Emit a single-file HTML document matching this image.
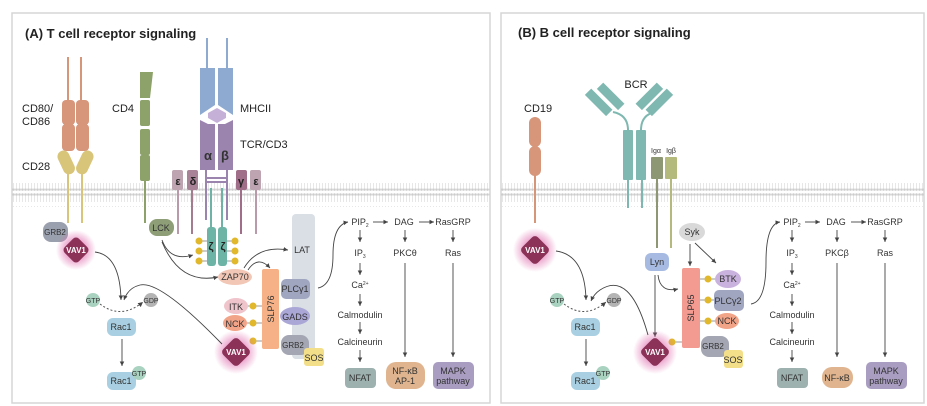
<!DOCTYPE html>
<html><head><meta charset="utf-8"><style>
html,body{margin:0;padding:0;background:#fff;}
svg{display:block;font-family:"Liberation Sans",sans-serif;}
.t{font-size:9px;fill:#333;text-anchor:middle;}
.s{font-size:7px;fill:#333;text-anchor:middle;}
.w{font-size:9px;fill:#fff;text-anchor:middle;font-weight:bold;}
.h{font-size:13px;font-weight:bold;fill:#222;}
.l{font-size:11px;fill:#222;}
.a{stroke:#444;stroke-width:0.9;fill:none;marker-end:url(#ar);}
.p{font-size:5px;fill:#333;text-anchor:middle;font-weight:bold;}
</style></head><body>
<svg width="927" height="406" viewBox="0 0 927 406" xmlns="http://www.w3.org/2000/svg">
<defs>
<marker id="ar" markerWidth="6" markerHeight="6" refX="5" refY="3" orient="auto"><path d="M0,0.5 L5,3 L0,5.5z" fill="#444"/></marker>
<radialGradient id="glow"><stop offset="0.5" stop-color="#e070b0" stop-opacity="0.6"/><stop offset="1" stop-color="#e070b0" stop-opacity="0"/></radialGradient>
<pattern id="mem" width="3" height="24" patternUnits="userSpaceOnUse"><circle cx="1.5" cy="2.5" r="1.3" fill="#ccc"/><line x1="1.5" y1="4" x2="1.5" y2="10" stroke="#ddd" stroke-width="0.7"/><line x1="1.5" y1="14" x2="1.5" y2="20" stroke="#ddd" stroke-width="0.7"/><circle cx="1.5" cy="21.5" r="1.3" fill="#ccc"/></pattern>
</defs>
<rect x="12" y="13" width="478" height="390" fill="#fff" stroke="#d5d5d5" stroke-width="1.5"/>
<rect x="501" y="13" width="423" height="390" fill="#fff" stroke="#d5d5d5" stroke-width="1.5"/>
<rect x="12" y="183" width="478" height="24" fill="url(#mem)"/>
<rect x="501" y="183" width="423" height="24" fill="url(#mem)"/>
<text x="25" y="38" class="h">(A) T cell receptor signaling</text>
<text x="518" y="37" class="h">(B) B cell receptor signaling</text>

<text x="22" y="112" class="l">CD80/</text><text x="22" y="125" class="l">CD86</text><text x="22" y="170" class="l">CD28</text>
<text x="112" y="112" class="l">CD4</text><text x="240" y="112" class="l">MHCII</text><text x="240" y="148" class="l">TCR/CD3</text>
<g fill="#d7957a">
<rect x="67" y="57" width="2" height="45"/><rect x="80" y="57" width="2" height="45"/>
<rect x="62" y="100" width="13" height="25" rx="4"/><rect x="62" y="124" width="13" height="27" rx="4"/>
<rect x="76" y="100" width="13" height="25" rx="4"/><rect x="76" y="124" width="13" height="27" rx="4"/>
</g>
<g fill="#d9c57a">
<rect x="67" y="170" width="2" height="53"/><rect x="81" y="170" width="2" height="53"/>
<rect x="60" y="150" width="12" height="25" rx="6" transform="rotate(-25 66 162)"/>
<rect x="79" y="150" width="12" height="25" rx="6" transform="rotate(25 85 162)"/>
</g>
<g fill="#8da26a">
<path d="M140,72 L153,72 L150,98 L140,98z"/><rect x="140" y="100" width="10" height="26" rx="2"/><rect x="140" y="129" width="10" height="26" rx="2"/><rect x="140" y="155" width="10" height="26" rx="2"/>
<rect x="144" y="180" width="2" height="43"/>
</g>
<g fill="#8eaad0">
<rect x="206" y="38" width="2" height="32"/><rect x="226" y="38" width="2" height="32"/>
<path d="M200,68 h15 v37 l-15,10z"/><path d="M218,68 h15 v47 l-15,-10z"/>
<rect x="200" y="68" width="15" height="18" rx="2"/><rect x="218" y="68" width="15" height="18" rx="2"/>
</g>
<path d="M217,108 l9,5 v5 l-9,5 l-9,-5 v-5z" fill="#c5b1d8"/>
<g fill="#9b84ae">
<path d="M200,120 l8,4 h7 v46 h-15z"/><path d="M233,120 l-8,4 h-7 v46 h15z"/>
</g>
<text x="208" y="160" style="font-size:13px;font-weight:bold;fill:#333" text-anchor="middle">α</text>
<text x="225" y="160" style="font-size:13px;font-weight:bold;fill:#333" text-anchor="middle">β</text>
<g stroke="#9b84ae" stroke-width="2"><line x1="206" y1="170" x2="206" y2="220"/><line x1="227" y1="170" x2="227" y2="220"/><line x1="206" y1="178" x2="227" y2="178"/><line x1="206" y1="182" x2="227" y2="182"/></g>
<g stroke-width="2"><line x1="178" y1="188" x2="178" y2="234" stroke="#b89aa8"/><line x1="192" y1="188" x2="192" y2="234" stroke="#a47c90"/><line x1="241" y1="188" x2="241" y2="234" stroke="#a06e88"/><line x1="256" y1="188" x2="256" y2="234" stroke="#b89aa8"/></g>
<rect x="172" y="170" width="11" height="20" rx="2" fill="#bea3b0"/><rect x="187" y="170" width="11" height="20" rx="2" fill="#a88296"/>
<rect x="236" y="170" width="11" height="20" rx="2" fill="#a06e88"/><rect x="250" y="170" width="11" height="20" rx="2" fill="#bea3b0"/>
<text x="178" y="185" class="l" text-anchor="middle" font-weight="bold">ε</text><text x="193" y="185" class="l" text-anchor="middle" font-weight="bold">δ</text>
<text x="241" y="185" class="l" text-anchor="middle" font-weight="bold">γ</text><text x="256" y="185" class="l" text-anchor="middle" font-weight="bold">ε</text>
<g fill="#6db4a6"><rect x="210" y="188" width="2" height="42"/><rect x="221" y="188" width="2" height="42"/>
<rect x="207" y="227" width="9" height="39" rx="3"/><rect x="218" y="227" width="9" height="39" rx="3"/></g>
<text x="211" y="250" style="font-size:11px;font-weight:bold;fill:#222" text-anchor="middle">ζ</text><text x="223" y="250" style="font-size:11px;font-weight:bold;fill:#222" text-anchor="middle">ζ</text>
<g stroke="#999"><line x1="202" y1="241" x2="207" y2="241"/><line x1="202" y1="251" x2="207" y2="251"/><line x1="202" y1="261" x2="207" y2="261"/><line x1="227" y1="241" x2="232" y2="241"/><line x1="227" y1="251" x2="232" y2="251"/><line x1="227" y1="261" x2="232" y2="261"/></g>
<g fill="#e1b82c"><circle cx="199" cy="241" r="3.5"/><circle cx="199" cy="251" r="3.5"/><circle cx="199" cy="261" r="3.5"/><circle cx="235" cy="241" r="3.5"/><circle cx="235" cy="251" r="3.5"/><circle cx="235" cy="261" r="3.5"/></g>
<rect x="149" y="219" width="25" height="17" rx="8" fill="#8e9e77"/><text x="161" y="231" class="t">LCK</text>
<path class="a" d="M162,240 Q170,262 193,255"/><path class="a" d="M162,242 Q180,285 218,277"/>
<path class="a" d="M244,268 Q258,245 288,250"/><path class="a" d="M248,270 Q258,255 270,268"/>
<ellipse cx="235" cy="277" rx="17" ry="8" fill="#f3c7b6"/><text x="235" y="280" class="t">ZAP70</text>
<rect x="292" y="214" width="23" height="145" rx="4" fill="#d9dfe5"/><text x="302" y="253" class="t">LAT</text>
<rect x="262" y="269" width="17" height="80" rx="2" fill="#f6b286"/>
<text transform="translate(274 309) rotate(-90)" class="t">SLP76</text>
<rect x="281" y="279" width="29" height="20" rx="5" fill="#a0a6c0"/><text x="295" y="292" class="t">PLCγ1</text>
<ellipse cx="295" cy="316" rx="15" ry="9" fill="#aaa6d6"/><text x="295" y="320" class="t">GADS</text>
<rect x="281" y="335" width="28" height="20" rx="8" fill="#a4a7b3"/><text x="293" y="348" class="s" style="font-size:8px">GRB2</text>
<rect x="304" y="348" width="20" height="18" rx="3" fill="#f3de8a"/><text x="314" y="361" class="t">SOS</text>
<ellipse cx="236" cy="306" rx="12" ry="8" fill="#f0c4cb"/><text x="236" y="310" class="t">ITK</text>
<ellipse cx="235" cy="323" rx="12" ry="8" fill="#f2a488"/><text x="235" y="327" class="t">NCK</text>
<g stroke="#999"><line x1="248" y1="306" x2="262" y2="306"/><line x1="247" y1="323" x2="262" y2="323"/><line x1="250" y1="341" x2="262" y2="341"/></g>
<g fill="#e1b82c"><circle cx="253" cy="306" r="3.5"/><circle cx="253" cy="323" r="3.5"/><circle cx="253" cy="341" r="3.5"/></g>
<circle cx="236" cy="352" r="22" fill="url(#glow)"/><rect x="225" y="341" width="22" height="22" rx="4" fill="#8c3157" transform="rotate(45 236 352)"/><text x="236" y="355" class="w" style="font-size:8px">VAV1</text>
<rect x="43" y="222" width="25" height="20" rx="8" fill="#9aa0ad"/><text x="55" y="235" class="s" style="font-size:8px">GRB2</text>
<circle cx="76" cy="250" r="20" fill="url(#glow)"/><rect x="66" y="240" width="20" height="20" rx="4" fill="#8c3157" transform="rotate(45 76 250)"/><text x="76" y="253" class="w" style="font-size:8px">VAV1</text>
<path class="a" d="M95,252 Q120,255 121,300"/><path class="a" d="M222,344 Q160,280 140,285 Q128,288 124,300"/>
<path d="M100,304 Q121,320 143,302" stroke="#555" stroke-dasharray="2,2" fill="none" marker-end="url(#ar)"/>
<circle cx="93" cy="300" r="7" fill="#a9d3c0"/><text x="93" y="303" class="s">GTP</text>
<circle cx="151" cy="300" r="7" fill="#b4b4b4"/><text x="151" y="303" class="s">GDP</text>
<rect x="107" y="318" width="29" height="18" rx="6" fill="#a8d0e2"/><text x="121" y="330" class="t">Rac1</text>
<line class="a" x1="122" y1="339" x2="122" y2="366"/>
<rect x="107" y="372" width="29" height="18" rx="6" fill="#a8d0e2"/><text x="121" y="384" class="t">Rac1</text>
<circle cx="139" cy="373" r="7" fill="#a9d3c0"/><text x="139" y="376" class="s">GTP</text>
<path class="a" d="M318,288 Q333,285 333,255 Q333,225 348,222"/>
<g id="casc">
<text x="360" y="225" class="t">PIP<tspan font-size="5" dy="2">2</tspan></text><text x="404" y="225" class="t">DAG</text><text x="453" y="225" class="t">RasGRP</text>
<line class="a" x1="373" y1="222" x2="388" y2="222"/><line class="a" x1="419" y1="222" x2="434" y2="222"/>
<line class="a" x1="360" y1="230" x2="360" y2="242"/><line class="a" x1="405" y1="230" x2="405" y2="242"/><line class="a" x1="453" y1="230" x2="453" y2="242"/>
<text x="360" y="256" class="t">IP<tspan font-size="5" dy="2">3</tspan></text><text x="453" y="256" class="t">Ras</text>
<line class="a" x1="360" y1="263" x2="360" y2="275"/><text x="360" y="288" class="t">Ca<tspan font-size="5" dy="-3">2+</tspan></text>
<line class="a" x1="360" y1="294" x2="360" y2="306"/><text x="360" y="318" class="t">Calmodulin</text>
<line class="a" x1="360" y1="322" x2="360" y2="334"/><text x="360" y="345" class="t">Calcineurin</text>
<line class="a" x1="360" y1="350" x2="360" y2="362"/>
<line class="a" x1="405" y1="263" x2="405" y2="357"/><line class="a" x1="453" y1="263" x2="453" y2="357"/>
<rect x="345" y="368" width="31" height="20" rx="4" fill="#9db1af"/><text x="360" y="381" class="t">NFAT</text>
</g>
<text x="405" y="256" class="t">PKCθ</text>
<rect x="386" y="362" width="39" height="27" rx="10" fill="#dfb48e"/><text x="405" y="374" class="t">NF-κB</text><text x="405" y="384" class="t">AP-1</text>
<rect x="433" y="362" width="41" height="27" rx="5" fill="#a99dc2"/><text x="453" y="374" class="t">MAPK</text><text x="453" y="384" class="t">pathway</text>

<text x="524" y="112" class="l">CD19</text><text x="636" y="88" class="l" text-anchor="middle">BCR</text>
<g fill="#d7957a"><rect x="529" y="117" width="12" height="30" rx="6"/><rect x="529" y="146" width="12" height="30" rx="6"/><rect x="534" y="174" width="2" height="49"/></g>
<g fill="#7fb8b0">
<rect x="623" y="130" width="10" height="50" rx="1"/><rect x="636" y="130" width="10" height="50" rx="1"/>
<rect x="627" y="178" width="2" height="30"/><rect x="641" y="178" width="2" height="30"/>
<rect x="584" y="98" width="30" height="9" transform="rotate(45 599 102)"/><rect x="596" y="92" width="30" height="9" transform="rotate(45 611 96)"/>
<rect x="644" y="98" width="30" height="9" transform="rotate(-45 659 102)"/><rect x="634" y="92" width="30" height="9" transform="rotate(-45 649 96)"/>
<path d="M613,112 Q628,115 628,130 M655,112 Q641,115 641,130" stroke="#7fb8b0" stroke-width="2" fill="none"/>
</g>
<rect x="651" y="157" width="12" height="22" rx="1" fill="#8e9774"/><rect x="665" y="157" width="12" height="22" rx="1" fill="#b3ba7c"/>
<rect x="656" y="178" width="2" height="70" fill="#8e9774"/><rect x="670" y="178" width="2" height="70" fill="#b3ba7c"/>
<text x="656" y="153" class="s" style="font-size:7px">Igα</text><text x="671" y="153" class="s" style="font-size:7px">Igβ</text>
<ellipse cx="692" cy="232" rx="13" ry="9" fill="#d9d9d9"/><text x="692" y="235" class="t">Syk</text>
<line class="a" x1="690" y1="244" x2="690" y2="266"/><line class="a" x1="695" y1="243" x2="716" y2="263"/>
<rect x="645" y="253" width="24" height="18" rx="6" fill="#a7bbe2"/><text x="657" y="265" class="t">Lyn</text>
<path class="a" d="M658,275 Q660,293 678,289"/><line class="a" x1="655" y1="275" x2="655" y2="337"/>
<rect x="682" y="268" width="18" height="80" rx="2" fill="#f39a91"/><text transform="translate(694 308) rotate(-90)" class="t">SLP65</text>
<ellipse cx="728" cy="279" rx="13" ry="9" fill="#c9b3de"/><text x="728" y="282" class="t">BTK</text>
<rect x="714" y="290" width="30" height="21" rx="5" fill="#a0a6c0"/><text x="728" y="304" class="t">PLCγ2</text>
<ellipse cx="727" cy="321" rx="12" ry="8" fill="#f2a488"/><text x="727" y="324" class="t">NCK</text>
<rect x="701" y="336" width="28" height="21" rx="8" fill="#a4a7b3"/><text x="713" y="349" class="s" style="font-size:8px">GRB2</text>
<rect x="724" y="350" width="19" height="18" rx="3" fill="#f3de8a"/><text x="733" y="363" class="t">SOS</text>
<g stroke="#999"><line x1="700" y1="279" x2="715" y2="279"/><line x1="700" y1="300" x2="714" y2="300"/><line x1="700" y1="321" x2="715" y2="321"/><line x1="670" y1="342" x2="682" y2="342"/></g>
<g fill="#e1b82c"><circle cx="708" cy="279" r="3.5"/><circle cx="708" cy="300" r="3.5"/><circle cx="708" cy="321" r="3.5"/><circle cx="672" cy="342" r="3.5"/></g>
<circle cx="655" cy="352" r="22" fill="url(#glow)"/><rect x="644" y="341" width="22" height="22" rx="4" fill="#8c3157" transform="rotate(45 655 352)"/><text x="655" y="355" class="w" style="font-size:8px">VAV1</text>
<circle cx="535" cy="250" r="22" fill="url(#glow)"/><rect x="524" y="239" width="22" height="22" rx="4" fill="#8c3157" transform="rotate(45 535 250)"/><text x="535" y="253" class="w" style="font-size:8px">VAV1</text>
<path class="a" d="M556,251 Q585,255 586,300"/><path class="a" d="M648,335 Q630,270 600,290 Q594,294 591,301"/>
<path d="M564,304 Q585,320 606,302" stroke="#555" stroke-dasharray="2,2" fill="none" marker-end="url(#ar)"/>
<circle cx="557" cy="300" r="7" fill="#a9d3c0"/><text x="557" y="303" class="s">GTP</text>
<circle cx="614" cy="300" r="7" fill="#b4b4b4"/><text x="614" y="303" class="s">GDP</text>
<rect x="571" y="318" width="29" height="18" rx="6" fill="#a8d0e2"/><text x="585" y="330" class="t">Rac1</text>
<line class="a" x1="586" y1="339" x2="586" y2="366"/>
<rect x="571" y="372" width="29" height="18" rx="6" fill="#a8d0e2"/><text x="585" y="384" class="t">Rac1</text>
<circle cx="603" cy="373" r="7" fill="#a9d3c0"/><text x="603" y="376" class="s">GTP</text>
<path class="a" d="M751,304 Q766,302 766,262 Q766,224 780,222"/>
<use href="#casc" transform="translate(432 0)"/>
<text x="837" y="256" class="t">PKCβ</text>
<rect x="822" y="367" width="31" height="21" rx="10" fill="#dfb48e"/><text x="837" y="381" class="t">NF-κB</text>
<rect x="866" y="362" width="41" height="27" rx="5" fill="#a99dc2"/><text x="886" y="374" class="t">MAPK</text><text x="886" y="384" class="t">pathway</text>
</svg>
</body></html>
